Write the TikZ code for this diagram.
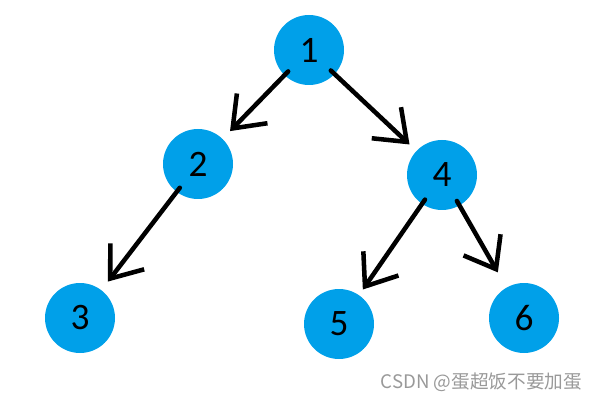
\documentclass[tikz,border=0pt]{standalone}
\usepackage{fontspec}
\setmainfont{Carlito}
\newfontfamily\cjk{Noto Sans CJK SC}
\usetikzlibrary{arrows.meta}
\definecolor{nodeblue}{RGB}{0,160,233}

\begin{document}
\begin{tikzpicture}[x=0.75pt, y=-0.75pt,
    vertex/.style={circle, fill=nodeblue, minimum size=52.5pt, inner sep=0pt, font=\fontsize{28}{30}\selectfont},
    edge/.style={line width=3.4pt, line cap=round, shorten <=-4pt, -{Straight Barb[length=21pt, width=32pt, line width=3.4pt]}}]
    \useasboundingbox (0,0) rectangle (598,402);
    % Knoten
    \node[vertex] (n1) at (309,50) {1};
    \node[vertex] (n2) at (198,164) {2};
    \node[vertex] (n4) at (442,175) {4};
    \node[vertex] (n3) at (80,318) {3};
    \node[vertex] (n5) at (339,324) {5};
    \node[vertex] (n6) at (524,318) {6};
    % Kanten
    \draw[edge, shorten >=8pt] (n1) -- (n2);
    \draw[edge, shorten >=7pt] (n1) -- (n4);
    \draw[edge, shorten >=8pt] (n2) -- (n3);
    \draw[edge, shorten >=5pt] (n4) -- (n5);
    \draw[edge, shorten >=13pt] (n4) -- (n6);
    % Wasserzeichen
    \node[anchor=east, text=gray!80, font=\cjk\fontsize{14}{16}\selectfont] (mark) at (587,382) {CSDN @蛋超饭不要加蛋};
\end{tikzpicture}
\end{document}
